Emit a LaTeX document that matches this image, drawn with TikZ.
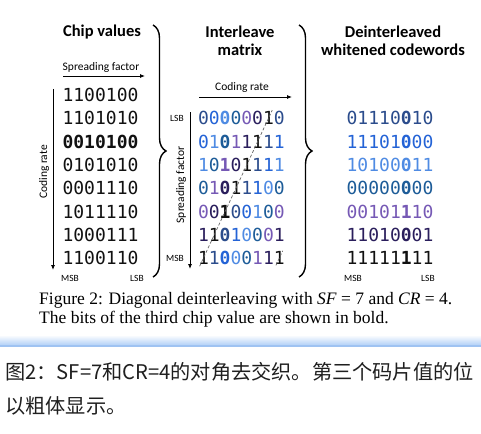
\documentclass[tikz,border=0pt]{standalone}
\usepackage{fontspec}
\setmainfont{Liberation Serif}
\newfontfamily\labelfont{Carlito}
\newfontfamily\bitfont{DejaVu Sans Mono}
\newfontfamily\cjkfont{Noto Sans CJK SC}
\usetikzlibrary{arrows.meta,calc,decorations.pathreplacing}

% one colour for each deinterleaved codeword
\definecolor{cw1}{HTML}{2B4C8C}
\definecolor{cw2}{HTML}{2463D6}
\definecolor{cw3}{HTML}{4F8BE3}
\definecolor{cw4}{HTML}{1D5C98}
\definecolor{cw5}{HTML}{7659B5}
\definecolor{cw6}{HTML}{2A1E5C}
\definecolor{cw7}{HTML}{111111}
\definecolor{bandblue}{HTML}{B3D1F7}
\definecolor{bandline}{HTML}{9FC3F2}

\tikzset{
  bit/.style={font=\bitfont\fontsize{18}{18}\selectfont, inner sep=0pt},
  title/.style={font=\labelfont\bfseries\fontsize{16.5}{18}\selectfont, align=center, inner sep=0pt},
  axis/.style={font=\labelfont\fontsize{11.5}{12}\selectfont, inner sep=0pt},
  endlbl/.style={font=\labelfont\fontsize{9.5}{10}\selectfont, inner sep=0pt},
  axarrow/.style={-{Latex[length=5pt,width=4pt]}, line width=0.8pt},
  bigbrace/.style={decorate, decoration={brace, amplitude=13pt}, line width=1.4pt},
  diag/.style={black!60, dash pattern=on 3pt off 2pt, line width=0.7pt},
  caption/.style={font=\fontsize{17.5}{19}\selectfont, inner sep=0pt, anchor=base west},
  cjk/.style={font=\cjkfont\fontsize{20.2}{24}\selectfont, inner sep=0pt, anchor=base west, text=black!88}
}

\begin{document}
\begin{tikzpicture}[x=1pt, y=-1pt]
    \useasboundingbox (0,0) rectangle (481,433);

    %titles
        \node[title] (t-chip) at (102,32) {Chip values};
        \node[title] (t-inter) at (240,41) {Interleave\\matrix};
        \node[title] (t-deint) at (393,41) {Deinterleaved\\whitened codewords};

    %chip values
        \foreach \bits [count=\k] in {1100100,1101010,0010100,0101010,0001110,1011110,1000111,1100110}
            \node[bit, text=cw7] (chip-\k) at (100.5,{95+23.3*(\k-1)}) {\ifnum\k=3\bfseries\fi\bits};

        \coordinate (sf-from) at (63,76);
        \coordinate (sf-to) at (145,76);
        \node[axis] (sf-lbl) at (101,67) {Spreading factor};
        \draw[axarrow] (sf-from) -- (sf-to);

        \coordinate (cr-from) at (53,89);
        \coordinate (cr-to) at (53,270);
        \node[axis, rotate=90] (cr-lbl) at (44,172) {Coding rate};
        \draw[axarrow] (cr-from) -- (cr-to);

        \node[endlbl] (chip-msb) at (70,278) {MSB};
        \node[endlbl] (chip-lsb) at (137,278) {LSB};

    %interleave matrix, coloured by codeword
        \foreach \row [count=\r] in {{0,0,0,0,0,0,1,0},{0,1,0,1,1,1,1,1},{1,0,1,0,1,1,1,1},{0,1,0,1,1,1,0,0},{0,0,1,0,0,1,0,0},{1,1,0,1,0,0,0,1},{1,1,0,0,0,1,1,1}}
            \foreach \b [count=\c] in \row {
                \pgfmathtruncatemacro\cw{mod(\r+\c-2,7)+1}
                \node[bit, text=cw\cw] (m-\r-\c) at ({198+10.84*(\c-0.5)},{95+23.3*\r}) {\ifnum\c=3\bfseries\fi\b};
            }

        \coordinate (ir-from) at (199,97);
        \coordinate (ir-to) at (292,97);
        \node[axis] (ir-lbl) at (242,87) {Coding rate};
        \draw[axarrow] (ir-from) -- (ir-to);

        \coordinate (is-from) at (190,112);
        \coordinate (is-to) at (190,269);
        \node[axis, rotate=90] (is-lbl) at (181,185) {Spreading factor};
        \draw[axarrow] (is-from) -- (is-to);

        \node[endlbl] (m-lsb) at (177,118) {LSB};
        \node[endlbl] (m-msb) at (175,258) {MSB};

        \draw[diag, shorten <=-9pt, shorten >=-9pt] (m-7-1.center) -- (m-1-7.center);
        \draw[diag] ($(m-7-8.center)+(-3.4,7.3)$) -- ($(m-7-8.center)+(3.4,-7.3)$);

    %deinterleaved codewords
        \foreach \word [count=\i] in {01110\textbf{0}10,11101\textbf{0}00,10100\textbf{0}11,00000\textbf{0}00,00101\textbf{1}10,11010\textbf{0}01,11111\textbf{1}11}
            \node[bit, text=cw\i] (dw-\i) at (390,{95+23.3*\i}) {\word};

        \node[endlbl] (dw-msb) at (353,278) {MSB};
        \node[endlbl] (dw-lsb) at (428,278) {LSB};

    %braces
        \coordinate (br1-top) at (153,25);
        \coordinate (br1-bot) at (153,277);
        \coordinate (br2-top) at (299,25);
        \coordinate (br2-bot) at (299,277);
        \draw[bigbrace] (br1-top) -- (br1-bot);
        \draw[bigbrace] (br2-top) -- (br2-bot);

    %caption
        \node[caption] (cap-1) at (39,304) {Figure 2: Diagonal deinterleaving with \textit{SF} = 7 and \textit{CR} = 4.};
        \node[caption] (cap-2) at (39,323) {The bits of the third chip value are shown in bold.};

    %separator band
        \shade[top color=white, bottom color=bandblue] (0,335) rectangle (481,345);
        \fill[bandline] (0,345) rectangle (481,347);

    %translation
        \node[cjk] (zh-1) at (5,379) {图2：SF=7和CR=4的对角去交织。第三个码片值的位};
        \node[cjk] (zh-2) at (5,413) {以粗体显示。};

    \end{tikzpicture}
\end{document}
